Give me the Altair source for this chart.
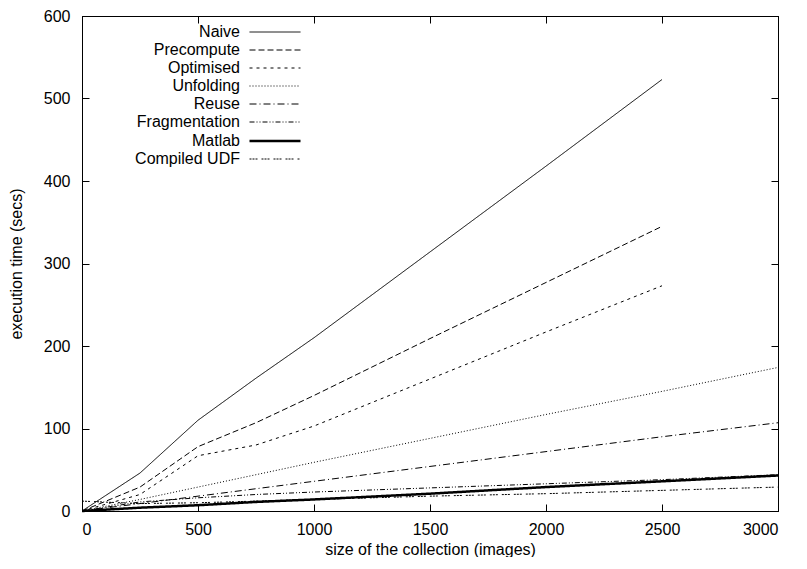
import altair as alt
import pandas as pd

series_names = ["Naive", "Precompute", "Optimised", "Unfolding", "Reuse",
                "Fragmentation", "Matlab", "Compiled UDF"]

x_short = [0, 250, 500, 750, 1000, 1500, 2000, 2500]
x_long = [0, 250, 500, 750, 1000, 1500, 2000, 2500, 3000]

naive = [0, 46, 110, 161, 210, 314, 418, 523]
precompute = [0, 29, 78, 107, 140, 209, 277, 345]
optimised = [0, 20, 67, 80, 103, 160, 217, 273]
unfolding = [0, 14, 29, 44, 59, 88, 117, 145, 174]
reuse = [0, 9, 18, 27, 36, 54, 72, 90, 107]
fragmentation = [0, 11, 16, 20, 23, 28, 33, 38, 44]
matlab = [0, 4, 7, 11, 14, 21, 29, 36, 43]
compiled_udf = [12, 9, 10, 12, 14, 18, 21, 25, 29]

x_ticks = [0, 500, 1000, 1500, 2000, 2500, 3000]
y_ticks = [0, 100, 200, 300, 400, 500, 600]

series_values = [naive, precompute, optimised, unfolding, reuse,
                 fragmentation, matlab, compiled_udf]

rows = []
for name, vals in zip(series_names, series_values):
    xs = x_short if len(vals) == len(x_short) else x_long
    for xv, yv in zip(xs, vals):
        rows.append({"x": xv, "y": yv, "series": name})
df = pd.DataFrame(rows)

# styles
dashes = [[1, 0], [6, 3], [3, 4], [1, 2], [7, 3, 1, 3], [5, 2, 1, 2, 1, 2],
          [1, 0], [2, 1, 2, 1, 2, 4]]
widths = [1, 1, 1, 1, 1, 1, 2.5, 1]

FONT = "Liberation Sans"

legend = alt.Legend(
    title=None, orient="none", legendX=183, legendY=7,
    symbolType="M-3,0H3", symbolSize=289,
    labelAlign="right", labelOffset={"expr": "-45"}, labelFont=FONT, labelFontSize=16,
    labelColor="black", symbolStrokeColor="black", symbolFillColor="transparent",
    rowPadding=1, padding=0, labelLimit=300,
)

xscale = alt.Scale(domain=[0, 3000], nice=False)
yscale = alt.Scale(domain=[0, 600], nice=False)
inward = {"expr": "-7"}

lines = alt.Chart(df).mark_line(color="black").encode(
    x=alt.X("x:Q", scale=xscale,
            axis=alt.Axis(values=x_ticks, format="d",
                          title="size of the collection (images)",
                          tickSize=inward, labelPadding=17, titlePadding=4)),
    y=alt.Y("y:Q", scale=yscale,
            axis=alt.Axis(values=y_ticks, format="d", title="execution time (secs)",
                          tickSize=inward, labelPadding=19, titlePadding=19)),
    strokeDash=alt.StrokeDash("series:N",
                              scale=alt.Scale(domain=series_names, range=dashes),
                              legend=legend),
    strokeWidth=alt.StrokeWidth("series:N",
                                scale=alt.Scale(type="ordinal", domain=series_names,
                                                range=widths),
                                legend=legend),
    detail="series:N",
)

mirror = alt.Chart(df).mark_line(opacity=0).encode(
    x=alt.X("x:Q", scale=xscale,
            axis=alt.Axis(values=x_ticks, orient="top", labels=False, title=None,
                          tickSize=inward)),
    y=alt.Y("y:Q", scale=yscale,
            axis=alt.Axis(values=y_ticks, orient="right", labels=False, title=None,
                          tickSize=inward)),
    detail="series:N",
)

chart = alt.layer(lines, mirror).resolve_axis(
    x="independent", y="independent"
).properties(
    width=696, height=495,
    padding={"top": 0, "left": 0, "right": 0, "bottom": 0},
).configure_view(
    stroke="black", strokeWidth=1
).configure_axis(
    grid=False, domainColor="black", domainWidth=1, tickColor="black",
    tickWidth=1, labelColor="black", titleColor="black", labelFont=FONT,
    titleFont=FONT, labelFontSize=16, titleFontSize=16,
    titleFontWeight="normal",
)

chart.save("out.html", embed_options={"renderer": "svg", "actions": False})
